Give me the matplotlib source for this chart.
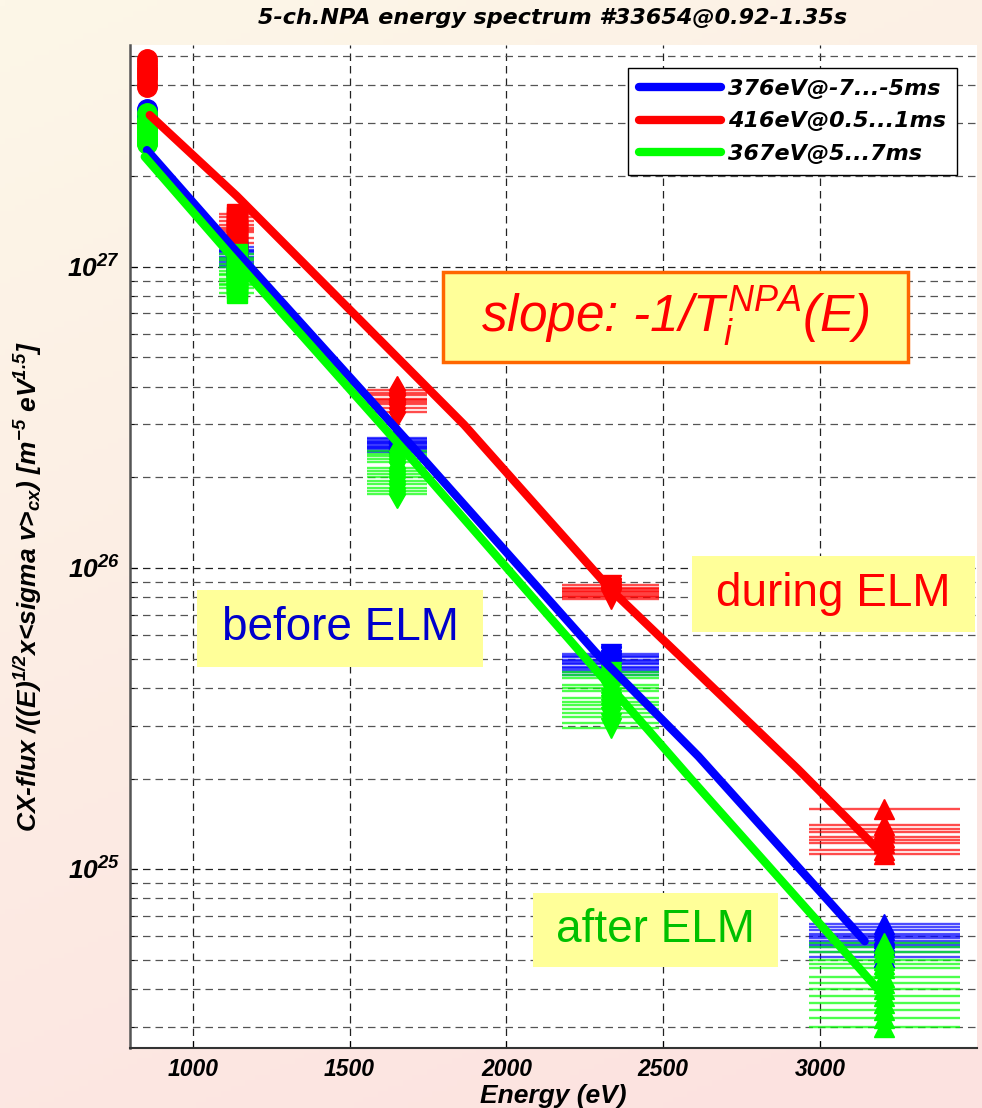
import numpy as np
import matplotlib
matplotlib.use('Agg')
import matplotlib.pyplot as plt
from matplotlib.lines import Line2D
from matplotlib.patches import Rectangle
from matplotlib.ticker import FuncFormatter, NullFormatter, NullLocator

ARIAL = ['Liberation Sans', 'DejaVu Sans']
WIDE = ['DejaVu Sans']

plt.rcParams['mathtext.fontset'] = 'custom'
plt.rcParams['mathtext.rm'] = 'Liberation Sans'
plt.rcParams['mathtext.it'] = 'Liberation Sans:italic'
plt.rcParams['mathtext.bf'] = 'Liberation Sans:bold:italic'

# NPA channels
chan_E = [855, 1140, 1652, 2332, 3205]
chan_dE = [30, 55, 95, 155, 240]
chan_marker = ['o', 's', 'd', 'v', '^']

labels = ['376eV@-7...-5ms', '416eV@0.5...1ms', '367eV@5...7ms']
colors = ['#0000ff', '#ff0000', '#00ff00']

# measured flux per channel, several time samples each
blue_flux = [
    [3.35e27, 3.25e27, 3.15e27, 3.10e27, 3.05e27, 3.00e27, 2.95e27, 3.20e27, 3.10e27, 3.00e27, 3.28e27, 2.98e27],
    [1.16e27, 1.12e27, 1.10e27, 1.08e27, 1.05e27, 1.02e27, 1.00e27, 1.14e27, 1.07e27, 1.04e27, 1.13e27, 1.01e27],
    [2.70e26, 2.65e26, 2.60e26, 2.55e26, 2.50e26, 2.45e26, 2.43e26, 2.62e26, 2.52e26, 2.48e26, 2.68e26, 2.58e26],
    [5.20e25, 5.05e25, 4.90e25, 4.80e25, 4.70e25, 4.60e25, 4.50e25, 4.40e25, 4.85e25, 4.65e25, 5.12e25, 4.95e25],
    [6.60e24, 6.30e24, 6.10e24, 5.90e24, 5.70e24, 5.50e24, 5.30e24, 5.10e24, 6.00e24, 5.60e24, 6.45e24, 5.80e24],
]
red_flux = [
    [4.90e27, 4.60e27, 4.40e27, 4.20e27, 4.05e27, 3.95e27, 4.30e27, 4.75e27, 4.50e27],
    [1.50e27, 1.42e27, 1.35e27, 1.30e27, 1.25e27, 1.20e27, 1.38e27, 1.46e27, 1.32e27],
    [3.90e26, 3.75e26, 3.60e26, 3.50e26, 3.40e26, 3.30e26, 3.65e26, 3.80e26, 3.55e26],
    [8.80e25, 8.60e25, 8.40e25, 8.20e25, 8.00e25, 7.90e25, 8.30e25, 8.50e25, 8.10e25],
    [1.58e25, 1.40e25, 1.33e25, 1.28e25, 1.22e25, 1.16e25, 1.12e25, 1.36e25, 1.25e25],
]
green_flux = [
    [3.25e27, 3.10e27, 3.00e27, 2.90e27, 2.80e27, 2.70e27, 2.60e27, 2.55e27, 2.95e27, 2.85e27, 2.75e27, 2.65e27, 3.05e27, 2.58e27],
    [1.10e27, 1.05e27, 1.00e27, 9.7e26, 9.4e26, 9.1e26, 8.8e26, 8.5e26, 8.2e26, 1.02e27, 9.5e26, 9.0e26, 1.07e27, 8.7e26],
    [2.45e26, 2.35e26, 2.25e26, 2.15e26, 2.05e26, 2.00e26, 1.95e26, 1.90e26, 1.85e26, 1.80e26, 1.76e26, 2.10e26, 2.40e26, 2.30e26],
    [4.50e25, 4.30e25, 4.10e25, 3.90e25, 3.70e25, 3.60e25, 3.50e25, 3.40e25, 3.30e25, 3.20e25, 3.05e25, 2.95e25, 4.40e25, 4.00e25],
    [5.70e24, 5.30e24, 5.00e24, 4.70e24, 4.40e24, 4.20e24, 4.00e24, 3.80e24, 3.60e24, 3.40e24, 3.20e24, 3.00e24, 5.50e24, 4.85e24],
]

# fitted spectra (slope -> Ti)
blue_fit_E = [854, 1127, 1680, 2284, 2612, 3142]
blue_fit = [2.44e27, 1.16e27, 2.67e26, 5.25e25, 2.37e25, 5.77e24]
red_fit_E = [863, 1140, 1865, 2332, 2929, 3200]
red_fit = [3.19e27, 1.72e27, 2.99e26, 8.49e25, 2.15e25, 1.12e25]
green_fit_E = [847, 1118, 1680, 2284, 2589, 3184]
green_fit = [2.32e27, 1.10e27, 2.42e26, 4.60e25, 1.99e25, 4.0e24]

fig = plt.figure(figsize=(9.82, 11.08), dpi=100)

# gradient background
bg = fig.add_axes([0, 0, 1, 1], zorder=-10)
gx, gy = np.meshgrid(np.linspace(0, 1, 200), np.linspace(0, 1, 200))
t = np.clip(0.3 * gx + 0.75 * gy, 0, 1)[..., None]
c_top = np.array([253, 247, 232]) / 255.
c_bot = np.array([252, 226, 224]) / 255.
bg.imshow(c_top * (1 - t) + c_bot * t, aspect='auto', extent=[0, 1, 0, 1])
bg.axis('off')

ax = fig.add_axes([130 / 982, 60 / 1108, 847 / 982, 1003 / 1108])
ax.set_facecolor('white')
ax.set_yscale('log')

series = [(blue_flux, colors[0]), (red_flux, colors[1]), (green_flux, colors[2])]
for flux, col in series:
    for k in range(len(chan_E)):
        vals = flux[k]
        ax.errorbar([chan_E[k]] * len(vals), vals, xerr=chan_dE[k], fmt=chan_marker[k],
                    color=col, ecolor=matplotlib.colors.to_rgba(col, 0.7), elinewidth=1.7,
                    ms=14, mec=col, capsize=0, zorder=3)

fits = [(blue_fit_E, blue_fit), (red_fit_E, red_fit), (green_fit_E, green_fit)]
for (fe, fv), col in zip(fits, colors):
    ax.plot(fe, fv, color=col, lw=6, solid_capstyle='round', solid_joinstyle='round', zorder=4)

ax.set_xlim(800, 3500)
ax.set_ylim(2.55e24, 5.45e27)

ax.set_xticks([1000, 1500, 2000, 2500, 3000])
ax.set_xticklabels(['1000', '1500', '2000', '2500', '3000'], family=ARIAL,
                   fontweight='bold', style='italic', fontsize=16.5)
ax.set_yticks([1e25, 1e26, 1e27])
ax.yaxis.set_major_formatter(FuncFormatter(lambda v, p: r'$\mathbf{10^{%d}}$' % round(np.log10(v))))
ax.yaxis.set_minor_formatter(NullFormatter())
ax.tick_params(axis='y', which='major', labelsize=19, pad=7, direction='in', length=5)
ax.tick_params(axis='y', which='minor', direction='in', length=3)
ax.tick_params(axis='x', which='major', pad=7, direction='in', length=5)
ax.xaxis.set_minor_locator(NullLocator())

dash = (0, (6, 4))
ax.grid(True, which='major', axis='both', ls=dash, color='#222222', lw=0.9)
ax.grid(True, which='minor', axis='y', ls=dash, color='#555555', lw=0.9)
ax.set_axisbelow(True)

for s in ['top', 'right']:
    ax.spines[s].set_visible(False)
ax.spines['left'].set_color('#555555')
ax.spines['left'].set_linewidth(1.8)
ax.spines['bottom'].set_color('#333333')
ax.spines['bottom'].set_linewidth(1.5)

ax.set_xlabel('Energy (eV)', family=ARIAL, fontweight='bold', style='italic', fontsize=19, labelpad=2)
ax.set_ylabel(r'CX-flux /((E)$^{\mathbf{1/2}}$x<sigma v>$_{\mathbf{cx}}$) [m$^{\mathbf{-5}}$ eV$^{\mathbf{1.5}}$]',
              family=ARIAL, fontweight='bold', style='italic', fontsize=19)
ax.yaxis.set_label_coords(-0.102, 0.46)

fig.text(553 / 982, 1 - 18 / 1108, '5-ch.NPA energy spectrum #33654@0.92-1.35s', family=WIDE,
         fontweight='bold', style='italic', fontsize=16, ha='center', va='center')

handles = [Line2D([], [], color=c, lw=6, solid_capstyle='round') for c in colors]
leg = ax.legend(handles, labels, loc='upper right', bbox_to_anchor=(0.9764, 0.977), borderaxespad=0,
                fancybox=False, framealpha=1, edgecolor='black', handlelength=3.7, handletextpad=0.3,
                labelspacing=0.55, borderpad=0.5,
                prop={'family': WIDE, 'weight': 'bold', 'style': 'italic', 'size': 16})
leg.get_frame().set_linewidth(1.0)
leg.set_zorder(6)


def note(x0, x1, y0, y1, text, color, size, edge=None, style='normal'):
    ax.add_patch(Rectangle((x0, y0), x1 - x0, y1 - y0, transform=ax.transAxes, fc='#ffff99',
                           ec=edge if edge else 'none', lw=2.5, zorder=5))
    ax.text((x0 + x1) / 2, (y0 + y1) / 2, text, transform=ax.transAxes, color=color, fontsize=size,
            family='Liberation Sans', style=style, ha='center', va='center', zorder=6)


note(0.3695, 0.9185, 0.684, 0.7737, r'slope: -1/$T_i^{NPA}$(E)', '#ff0000', 37, edge='#ff6600', style='italic')
note(0.0791, 0.4168, 0.3799, 0.4566, 'before ELM', '#0000cc', 33)
note(0.6635, 0.9976, 0.4148, 0.4905, 'during ELM', '#ff0000', 33)
note(0.4758, 0.7651, 0.0808, 0.1545, 'after ELM', '#00c000', 33)

fig.savefig('out.png', dpi=100)
